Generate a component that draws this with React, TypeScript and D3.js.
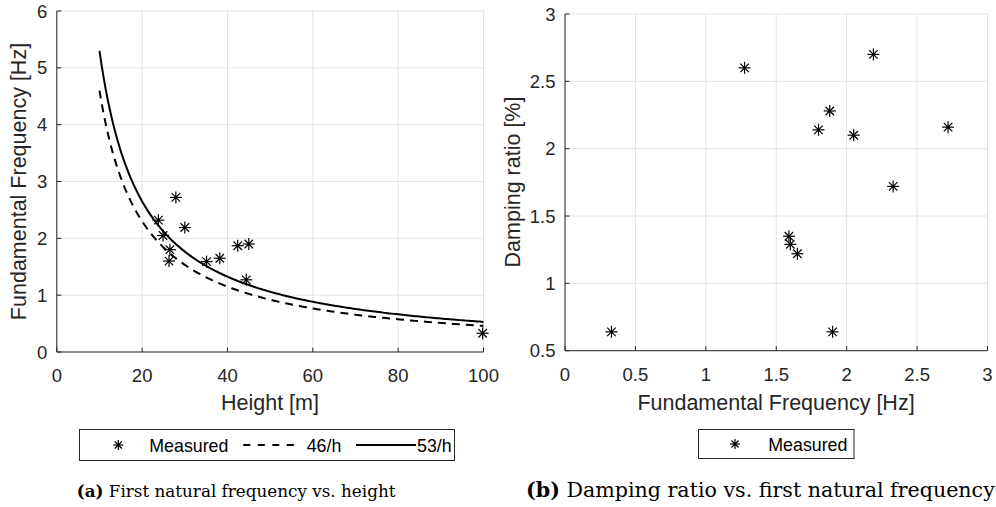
import React from "react";
import * as d3 from "d3";

// ---- Data ----
const heightM = [27.9, 23.8, 30.0, 24.9, 26.5, 26.3, 35.1, 38.2, 42.4, 45.0, 44.4, 99.8];
const freqByHeight = [2.72, 2.32, 2.19, 2.05, 1.8, 1.6, 1.59, 1.65, 1.87, 1.9, 1.27, 0.33];

const freqHz = [0.33, 1.275, 1.59, 1.6, 1.65, 1.8, 1.88, 1.9, 2.05, 2.19, 2.33, 2.72];
const dampingPct = [0.64, 2.6, 1.35, 1.29, 1.22, 2.14, 2.28, 0.64, 2.1, 2.7, 1.72, 2.16];

const fitCoefficients = [46, 53];
const fitLabels = ["46/h", "53/h"];
const fitDash = ["8,6", null];

const xTicksA = [0, 20, 40, 60, 80, 100];
const yTicksA = [0, 1, 2, 3, 4, 5, 6];
const xTicksB = [0, 0.5, 1, 1.5, 2, 2.5, 3];
const yTicksB = [0.5, 1, 1.5, 2, 2.5, 3];

const AXIS = "#262626";
const GRID = "#e3e3e3";
const SANS = "'Liberation Sans', Arial, Helvetica, sans-serif";
const SERIF = "'DejaVu Serif', 'Liberation Serif', serif";

function Star({ x, y, r = 6 }: { x: number; y: number; r?: number }) {
  const d = r * Math.SQRT1_2;
  return (
    <g stroke="#000" strokeWidth={1.2}>
      <line x1={x - r} y1={y} x2={x + r} y2={y} />
      <line x1={x} y1={y - r} x2={x} y2={y + r} />
      <line x1={x - d} y1={y - d} x2={x + d} y2={y + d} />
      <line x1={x - d} y1={y + d} x2={x + d} y2={y - d} />
      <circle cx={x} cy={y} r={1.4} fill="#000" stroke="none" />
    </g>
  );
}

function Axes({
  x,
  y,
  xTicks,
  yTicks,
  fmt,
}: {
  x: d3.ScaleLinear<number, number>;
  y: d3.ScaleLinear<number, number>;
  xTicks: number[];
  yTicks: number[];
  fmt: (v: number) => string;
}) {
  const [x0, x1] = x.range();
  const [y0, y1] = y.range();
  return (
    <g>
      {xTicks.map((t) => (
        <line key={"gx" + t} x1={x(t)} x2={x(t)} y1={y0} y2={y1} stroke={GRID} strokeWidth={1} />
      ))}
      {yTicks.map((t) => (
        <line key={"gy" + t} x1={x0} x2={x1} y1={y(t)} y2={y(t)} stroke={GRID} strokeWidth={1} />
      ))}
      <line x1={x0} x2={x1} y1={y0} y2={y0} stroke={AXIS} strokeWidth={1} />
      <line x1={x0} x2={x0} y1={y0} y2={y1} stroke={AXIS} strokeWidth={1} />
      {xTicks.map((t) => (
        <g key={"tx" + t}>
          <line x1={x(t)} x2={x(t)} y1={y0} y2={y0 - 4.5} stroke={AXIS} strokeWidth={1} />
          <text x={x(t)} y={y0 + 30} textAnchor="middle" fontSize={18.5} fill={AXIS} fontFamily={SANS}>
            {fmt(t)}
          </text>
        </g>
      ))}
      {yTicks.map((t) => (
        <g key={"ty" + t}>
          <line x1={x0} x2={x0 + 4.5} y1={y(t)} y2={y(t)} stroke={AXIS} strokeWidth={1} />
          <text x={x0 - 9.5} y={y(t) + 6.6} textAnchor="end" fontSize={18.5} fill={AXIS} fontFamily={SANS}>
            {fmt(t)}
          </text>
        </g>
      ))}
    </g>
  );
}

export default function App() {
  const fmt = (v: number) => String(v);

  // Panel (a)
  const xA = d3.scaleLinear().domain([0, 100]).range([56.8, 483.5]);
  const yA = d3.scaleLinear().domain([0, 6]).range([352, 11]);
  const hSamples = d3.range(10, 100.01, 0.5);
  const fitLine = d3
    .line<number[]>()
    .x((d) => xA(d[0]))
    .y((d) => yA(d[1]));

  // Panel (b)
  const xB = d3.scaleLinear().domain([0, 3]).range([565, 987.5]);
  const yB = d3.scaleLinear().domain([0.5, 3]).range([350.7, 14]);

  return (
    <svg
      width={996}
      height={507}
      viewBox="0 0 996 507"
      style={{ position: "absolute", left: 0, top: 0, background: "#fff" }}
    >
      <rect width={996} height={507} fill="#fff" />

      {/* ---------- Panel (a) ---------- */}
      <Axes x={xA} y={yA} xTicks={xTicksA} yTicks={yTicksA} fmt={fmt} />
      {fitCoefficients.map((c, i) => (
        <path
          key={"fit" + i}
          d={fitLine(hSamples.map((h) => [h, c / h])) || ""}
          fill="none"
          stroke="#000"
          strokeWidth={2}
          strokeDasharray={fitDash[i] || undefined}
        />
      ))}
      {heightM.map((h, i) => (
        <Star key={"pa" + i} x={xA(h)} y={yA(freqByHeight[i])} />
      ))}
      <text x={270} y={410} textAnchor="middle" fontSize={21.5} fill={AXIS} fontFamily={SANS}>
        Height [m]
      </text>
      <text
        transform={`translate(25.5,181.5) rotate(-90)`}
        textAnchor="middle"
        fontSize={21.5}
        fill={AXIS}
        fontFamily={SANS}
      >
        Fundamental Frequency [Hz]
      </text>

      {/* Legend (a) */}
      <rect x={79.5} y={429.5} width={375} height={31} fill="#fff" stroke={AXIS} strokeWidth={1} />
      <Star x={118.3} y={445} r={5} />
      <text x={149.3} y={452} fontSize={17.8} fill="#000" fontFamily={SANS}>
        Measured
      </text>
      <line x1={243.3} x2={298.3} y1={445} y2={445} stroke="#000" strokeWidth={2} strokeDasharray="7,7.5" />
      <text x={306.7} y={452} fontSize={17.8} fill="#000" fontFamily={SANS}>
        {fitLabels[0]}
      </text>
      <line x1={356} x2={416} y1={445} y2={445} stroke="#000" strokeWidth={2} />
      <text x={417} y={452} fontSize={17.8} fill="#000" fontFamily={SANS}>
        {fitLabels[1]}
      </text>

      <text x={76.7} y={497} fontSize={16.8} fill="#000" fontFamily={SERIF}>
        <tspan fontWeight="bold">(a)</tspan> First natural frequency vs. height
      </text>

      {/* ---------- Panel (b) ---------- */}
      <Axes x={xB} y={yB} xTicks={xTicksB} yTicks={yTicksB} fmt={fmt} />
      {freqHz.map((f, i) => (
        <Star key={"pb" + i} x={xB(f)} y={yB(dampingPct[i])} />
      ))}
      <text x={776} y={410} textAnchor="middle" fontSize={21.5} fill={AXIS} fontFamily={SANS}>
        Fundamental Frequency [Hz]
      </text>
      <text
        transform={`translate(519.5,182) rotate(-90)`}
        textAnchor="middle"
        fontSize={21.5}
        fill={AXIS}
        fontFamily={SANS}
      >
        Damping ratio [%]
      </text>

      {/* Legend (b) */}
      <rect x={698.5} y={429.5} width={155.5} height={29} fill="#fff" stroke={AXIS} strokeWidth={1} />
      <Star x={735} y={444} r={5} />
      <text x={768.3} y={451} fontSize={17.8} fill="#000" fontFamily={SANS}>
        Measured
      </text>

      <text x={526} y={497} fontSize={20.6} fill="#000" fontFamily={SERIF}>
        <tspan fontWeight="bold">(b)</tspan> Damping ratio vs. first natural frequency
      </text>
    </svg>
  );
}
